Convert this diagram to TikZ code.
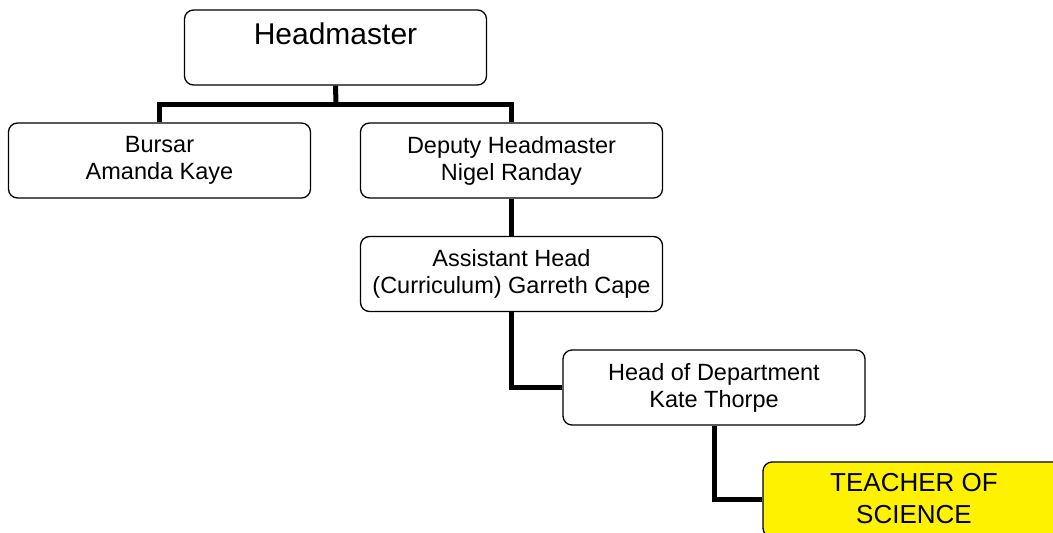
\documentclass[tikz,border=0pt]{standalone}
\usepackage{fontspec}
\setmainfont{Liberation Sans}
\begin{document}
\begin{tikzpicture}[x=1pt,y=-1pt,
  orgbox/.style={draw=black, line width=1.3pt, rounded corners=9pt, fill=white,
    minimum width=302pt, minimum height=75pt, inner sep=0pt, align=center,
    font=\fontsize{23.5}{27}\selectfont},
  conn/.style={draw=black, line width=5pt},
]
\useasboundingbox (0,0) rectangle (1053,533);
\clip (0,0) rectangle (1053,533);

\node[orgbox, font=\fontsize{30}{34}\selectfont, text height=22pt, text depth=29pt] (hm) at (335.5,47.5) {Headmaster};
\node[orgbox] (bursar) at (159.5,160.5) {Bursar\\Amanda Kaye};
\node[orgbox] (deputy) at (511.5,160.5) {Deputy Headmaster\\Nigel Randay};
\node[orgbox] (asst) at (511.5,274) {Assistant Head\\(Curriculum) Garreth Cape};
\node[orgbox] (hod) at (714,387.5) {Head of Department\\Kate Thorpe};
\node[orgbox, fill=yellow, font=\fontsize{26}{32}\selectfont] (teach) at (914,499.5) {\raisebox{3pt}{TEACHER OF}\\\raisebox{3pt}{SCIENCE}};

\coordinate (bus) at (336,104);
\draw[conn] (hm.south) -- (bus);
\draw[conn] (bursar.north) -- (bursar.north |- bus) -- (deputy.north |- bus) -- (deputy.north);
\draw[conn] (deputy.south) -- (asst.north);
\draw[conn] (asst.south) |- (hod.west);
\draw[conn] (hod.south) |- (teach.west);
\end{tikzpicture}
\end{document}
